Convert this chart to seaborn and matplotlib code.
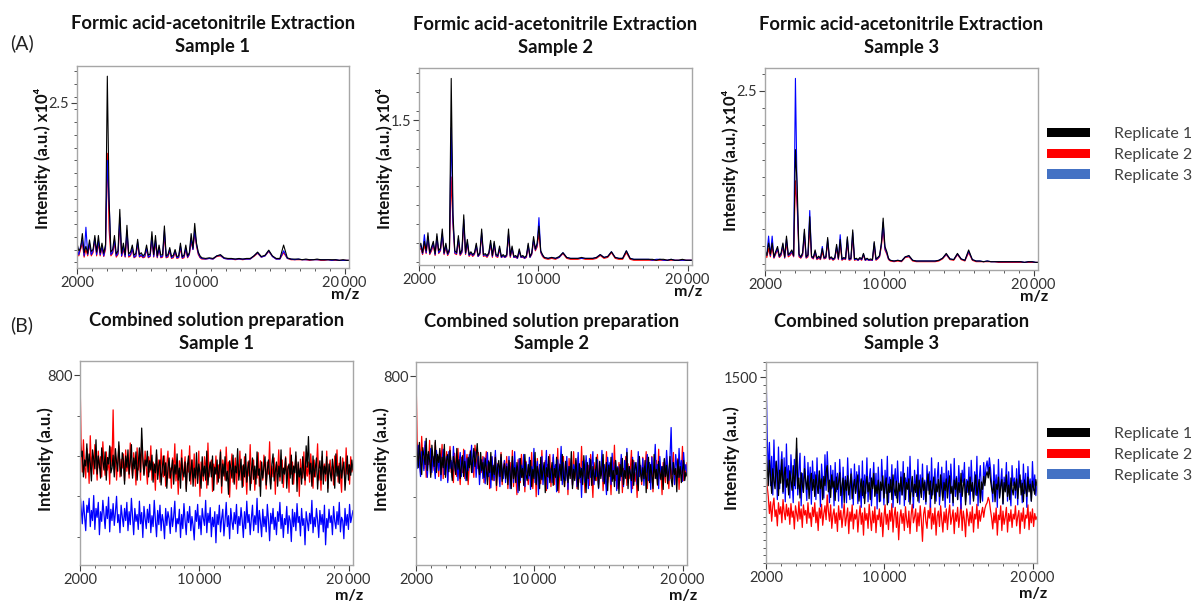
import numpy as np
import pandas as pd
import matplotlib.pyplot as plt
import seaborn as sns
from matplotlib.ticker import MultipleLocator
from matplotlib.patches import Patch

sns.set_style('white')
plt.rcParams['font.family'] = ['Lato', 'DejaVu Sans']

reps = ['Replicate 1', 'Replicate 2', 'Replicate 3']
line_colors = {'Replicate 1': 'black', 'Replicate 2': '#ff0000', 'Replicate 3': '#0000ff'}
legend_colors = ['black', '#ff0000', '#4472c4']
draw_order = ['Replicate 2', 'Replicate 3', 'Replicate 1']

# m/z sampling of the spectra
mz_top = np.concatenate([np.arange(2000, 10400, 120), np.arange(10400, 20401, 250)])
mz_bottom = np.linspace(2000, 20300, 240)

# (A) Formic acid-acetonitrile extraction, intensity x10^4
a1_rep1 = [0.30, 0.18, 0.22, 0.45, 0.15, 0.25, 0.14, 0.35, 0.17, 0.2,
           0.42, 0.16, 0.42, 0.15, 0.3, 0.14, 0.28, 2.92, 0.97, 0.16,
           0.2, 0.42, 0.13, 0.18, 0.83, 0.14, 0.3, 0.12, 0.58, 0.13,
           0.16, 0.27, 0.11, 0.14, 0.36, 0.12, 0.15, 0.1, 0.13, 0.27,
           0.11, 0.13, 0.48, 0.12, 0.42, 0.1, 0.27, 0.11, 0.12, 0.57,
           0.1, 0.12, 0.23, 0.09, 0.11, 0.2, 0.09, 0.1, 0.3, 0.09,
           0.11, 0.27, 0.1, 0.15, 0.45, 0.22, 0.61, 0.3, 0.16, 0.1,
           0.07, 0.06, 0.07, 0.06, 0.1, 0.12, 0.07, 0.06, 0.06, 0.05,
           0.06, 0.05, 0.06, 0.06, 0.1, 0.16, 0.09, 0.11, 0.19, 0.1,
           0.06, 0.06, 0.27, 0.07, 0.05, 0.05, 0.05, 0.04, 0.05, 0.04,
           0.04, 0.05, 0.04, 0.04, 0.04, 0.04, 0.04, 0.03, 0.04, 0.03, 0.03]
a1_rep2 = [0.25, 0.1, 0.2, 0.3, 0.08, 0.2, 0.1, 0.28, 0.1, 0.15,
           0.35, 0.1, 0.3, 0.1, 0.22, 0.09, 0.2, 1.71, 0.5, 0.1,
           0.14, 0.3, 0.08, 0.12, 0.6, 0.09, 0.2, 0.08, 0.42, 0.08,
           0.1, 0.2, 0.07, 0.09, 0.28, 0.08, 0.1, 0.07, 0.08, 0.2,
           0.07, 0.09, 0.36, 0.08, 0.3, 0.07, 0.2, 0.07, 0.08, 0.42,
           0.07, 0.08, 0.17, 0.06, 0.07, 0.15, 0.06, 0.07, 0.22, 0.06,
           0.07, 0.2, 0.07, 0.12, 0.32, 0.2, 0.45, 0.25, 0.12, 0.07,
           0.05, 0.05, 0.06, 0.05, 0.09, 0.1, 0.06, 0.05, 0.05, 0.04,
           0.05, 0.04, 0.05, 0.05, 0.09, 0.14, 0.08, 0.1, 0.17, 0.09,
           0.05, 0.05, 0.15, 0.06, 0.04, 0.04, 0.04, 0.04, 0.04, 0.03,
           0.04, 0.04, 0.03, 0.03, 0.04, 0.03, 0.03, 0.03, 0.03, 0.03, 0.03]
a1_rep3 = [0.2, 0.12, 0.25, 0.35, 0.1, 0.55, 0.12, 0.3, 0.12, 0.18,
           0.38, 0.12, 0.35, 0.12, 0.25, 0.1, 0.25, 1.6, 0.96, 0.12,
           0.16, 0.35, 0.1, 0.14, 0.7, 0.1, 0.25, 0.09, 0.5, 0.1,
           0.12, 0.22, 0.08, 0.1, 0.32, 0.09, 0.12, 0.08, 0.1, 0.22,
           0.08, 0.1, 0.4, 0.09, 0.35, 0.08, 0.22, 0.08, 0.1, 0.5,
           0.08, 0.1, 0.2, 0.07, 0.09, 0.18, 0.07, 0.08, 0.26, 0.07,
           0.09, 0.22, 0.08, 0.13, 0.38, 0.2, 0.5, 0.28, 0.14, 0.08,
           0.06, 0.05, 0.06, 0.05, 0.1, 0.11, 0.06, 0.05, 0.05, 0.05,
           0.05, 0.05, 0.05, 0.05, 0.1, 0.15, 0.08, 0.1, 0.18, 0.09,
           0.05, 0.05, 0.18, 0.06, 0.05, 0.04, 0.05, 0.04, 0.04, 0.04,
           0.04, 0.04, 0.04, 0.04, 0.04, 0.03, 0.04, 0.03, 0.03, 0.03, 0.03]

a2_rep1 = [0.15, 0.2, 0.1, 0.22, 0.12, 0.31, 0.1, 0.16, 0.22, 0.09,
           0.3, 0.12, 0.15, 0.35, 0.1, 0.2, 0.09, 0.14, 1.94, 0.5,
           0.12, 0.1, 0.28, 0.09, 0.13, 0.5, 0.1, 0.24, 0.08, 0.11,
           0.08, 0.1, 0.2, 0.07, 0.1, 0.35, 0.08, 0.09, 0.07, 0.1,
           0.23, 0.07, 0.22, 0.08, 0.07, 0.17, 0.06, 0.08, 0.06, 0.08,
           0.35, 0.07, 0.17, 0.06, 0.07, 0.05, 0.14, 0.06, 0.07, 0.05,
           0.07, 0.2, 0.06, 0.1, 0.27, 0.14, 0.2, 0.38, 0.12, 0.08,
           0.05, 0.04, 0.05, 0.04, 0.06, 0.1, 0.05, 0.04, 0.04, 0.04,
           0.05, 0.04, 0.04, 0.04, 0.05, 0.08, 0.05, 0.06, 0.11, 0.05,
           0.04, 0.04, 0.12, 0.04, 0.03, 0.03, 0.03, 0.03, 0.03, 0.03,
           0.02, 0.03, 0.03, 0.02, 0.03, 0.02, 0.02, 0.03, 0.02, 0.02, 0.02]
a2_rep2 = [0.12, 0.15, 0.08, 0.18, 0.09, 0.24, 0.08, 0.12, 0.18, 0.07,
           0.24, 0.09, 0.12, 0.28, 0.08, 0.15, 0.07, 0.11, 0.9, 0.38,
           0.09, 0.08, 0.22, 0.07, 0.1, 0.4, 0.08, 0.19, 0.06, 0.09,
           0.06, 0.08, 0.16, 0.06, 0.08, 0.28, 0.06, 0.07, 0.05, 0.08,
           0.18, 0.05, 0.17, 0.06, 0.05, 0.13, 0.05, 0.06, 0.05, 0.06,
           0.28, 0.05, 0.13, 0.05, 0.05, 0.04, 0.11, 0.05, 0.05, 0.04,
           0.05, 0.16, 0.05, 0.08, 0.22, 0.12, 0.16, 0.3, 0.1, 0.06,
           0.04, 0.03, 0.04, 0.03, 0.05, 0.09, 0.04, 0.03, 0.03, 0.03,
           0.04, 0.03, 0.03, 0.03, 0.04, 0.07, 0.04, 0.05, 0.1, 0.04,
           0.03, 0.03, 0.1, 0.03, 0.02, 0.02, 0.02, 0.02, 0.02, 0.02,
           0.02, 0.02, 0.02, 0.02, 0.02, 0.02, 0.02, 0.02, 0.02, 0.02, 0.02]
a2_rep3 = [0.13, 0.18, 0.09, 0.29, 0.1, 0.27, 0.09, 0.14, 0.2, 0.08,
           0.27, 0.1, 0.13, 0.3, 0.09, 0.18, 0.08, 0.12, 1.42, 0.42,
           0.1, 0.09, 0.25, 0.08, 0.11, 0.45, 0.09, 0.21, 0.07, 0.1,
           0.07, 0.09, 0.18, 0.06, 0.09, 0.31, 0.07, 0.08, 0.06, 0.09,
           0.2, 0.06, 0.2, 0.07, 0.06, 0.15, 0.05, 0.07, 0.05, 0.07,
           0.3, 0.06, 0.15, 0.05, 0.06, 0.04, 0.12, 0.05, 0.06, 0.04,
           0.06, 0.18, 0.05, 0.09, 0.24, 0.13, 0.18, 0.47, 0.11, 0.07,
           0.05, 0.04, 0.05, 0.04, 0.05, 0.1, 0.05, 0.04, 0.04, 0.04,
           0.04, 0.04, 0.04, 0.04, 0.05, 0.08, 0.05, 0.06, 0.11, 0.05,
           0.04, 0.04, 0.12, 0.04, 0.03, 0.03, 0.03, 0.03, 0.03, 0.02,
           0.03, 0.03, 0.02, 0.02, 0.03, 0.02, 0.02, 0.02, 0.02, 0.02, 0.02]

a3_rep1 = [0.2, 0.12, 0.3, 0.14, 0.3, 0.1, 0.18, 0.25, 0.11, 0.16,
           0.3, 0.1, 0.4, 0.13, 0.16, 0.2, 0.12, 1.65, 1.11, 0.14,
           0.1, 0.16, 0.5, 0.1, 0.13, 0.68, 0.11, 0.09, 0.2, 0.08,
           0.11, 0.08, 0.22, 0.09, 0.1, 0.38, 0.08, 0.1, 0.07, 0.09,
           0.28, 0.08, 0.35, 0.07, 0.09, 0.08, 0.39, 0.07, 0.08, 0.49,
           0.07, 0.08, 0.06, 0.09, 0.07, 0.15, 0.06, 0.08, 0.06, 0.07,
           0.06, 0.32, 0.07, 0.09, 0.12, 0.3, 0.66, 0.25, 0.18, 0.08,
           0.05, 0.04, 0.05, 0.04, 0.1, 0.12, 0.05, 0.04, 0.04, 0.04,
           0.04, 0.04, 0.04, 0.05, 0.08, 0.15, 0.07, 0.06, 0.15, 0.07,
           0.05, 0.2, 0.06, 0.04, 0.04, 0.03, 0.04, 0.03, 0.03, 0.03,
           0.03, 0.03, 0.03, 0.03, 0.03, 0.03, 0.02, 0.03, 0.03, 0.02, 0.02]
a3_rep2 = [0.15, 0.09, 0.22, 0.1, 0.24, 0.08, 0.14, 0.2, 0.09, 0.12,
           0.24, 0.08, 0.3, 0.1, 0.12, 0.16, 0.1, 1.2, 0.8, 0.1,
           0.08, 0.12, 0.4, 0.08, 0.1, 0.52, 0.09, 0.07, 0.15, 0.06,
           0.08, 0.06, 0.17, 0.07, 0.08, 0.3, 0.06, 0.08, 0.05, 0.07,
           0.22, 0.06, 0.28, 0.05, 0.07, 0.06, 0.3, 0.05, 0.06, 0.38,
           0.05, 0.06, 0.05, 0.07, 0.05, 0.12, 0.05, 0.06, 0.05, 0.05,
           0.05, 0.25, 0.05, 0.07, 0.1, 0.25, 0.5, 0.2, 0.14, 0.06,
           0.04, 0.03, 0.04, 0.03, 0.09, 0.1, 0.04, 0.03, 0.03, 0.03,
           0.03, 0.03, 0.03, 0.04, 0.07, 0.13, 0.06, 0.05, 0.13, 0.06,
           0.04, 0.16, 0.05, 0.03, 0.03, 0.03, 0.03, 0.03, 0.03, 0.02,
           0.02, 0.02, 0.02, 0.02, 0.02, 0.02, 0.02, 0.02, 0.02, 0.02, 0.02]
a3_rep3 = [0.18, 0.12, 0.4, 0.12, 0.4, 0.09, 0.16, 0.22, 0.1, 0.14,
           0.28, 0.09, 0.36, 0.12, 0.14, 0.18, 0.11, 2.68, 0.9, 0.12,
           0.09, 0.14, 0.45, 0.09, 0.12, 0.77, 0.1, 0.08, 0.18, 0.07,
           0.1, 0.07, 0.25, 0.08, 0.09, 0.35, 0.07, 0.09, 0.06, 0.08,
           0.25, 0.07, 0.42, 0.06, 0.08, 0.07, 0.36, 0.06, 0.07, 0.45,
           0.06, 0.07, 0.05, 0.08, 0.06, 0.14, 0.05, 0.07, 0.05, 0.06,
           0.05, 0.3, 0.06, 0.08, 0.11, 0.28, 0.6, 0.22, 0.16, 0.07,
           0.05, 0.04, 0.05, 0.04, 0.1, 0.11, 0.05, 0.04, 0.04, 0.04,
           0.04, 0.04, 0.04, 0.05, 0.08, 0.14, 0.07, 0.06, 0.14, 0.07,
           0.05, 0.18, 0.06, 0.04, 0.04, 0.03, 0.04, 0.03, 0.03, 0.03,
           0.03, 0.03, 0.03, 0.03, 0.03, 0.03, 0.02, 0.03, 0.03, 0.02, 0.02]

# (B) Combined solution preparation, intensity in a.u.
b1_rep1 = [650, 598, 612, 548, 590, 575, 630, 560, 605, 582, 538, 615, 592, 568, 640, 555, 600, 578, 545, 620,
           588, 565, 610, 540, 596, 580, 625, 558, 570, 602, 548, 618, 585, 562, 635, 575, 550, 608, 590, 530,
           600, 572, 615, 555, 585, 628, 545, 595, 568, 610, 540, 582, 620, 560, 669, 598, 552, 590, 575, 612,
           548, 588, 565, 602, 535, 580, 558, 615, 542, 575, 590, 528, 568, 600, 552, 583, 520, 572, 595, 545,
           565, 590, 530, 578, 555, 605, 540, 570, 520, 595, 560, 548, 585, 512, 575, 600, 538, 562, 590, 525,
           570, 545, 608, 532, 580, 558, 520, 598, 550, 575, 540, 612, 528, 565, 585, 548, 600, 515, 572, 555,
           590, 535, 568, 610, 525, 580, 550, 598, 538, 562, 505, 588, 570, 545, 602, 530, 575, 558, 618, 540,
           565, 592, 522, 578, 548, 605, 535, 570, 588, 515, 560, 595, 542, 575, 530, 610, 552, 568, 500, 585,
           545, 572, 598, 528, 565, 590, 550, 518, 580, 605, 538, 562, 585, 525, 575, 548, 615, 532, 570, 555,
           595, 520, 568, 580, 545, 602, 530, 575, 558, 610, 512, 585, 548, 570, 530, 598, 560, 540, 625, 572,
           648, 555, 582, 525, 600, 548, 570, 595, 518, 565, 588, 540, 612, 530, 575, 555, 598, 510, 580, 560,
           538, 592, 565, 520, 605, 550, 575, 532, 598, 545, 570, 585, 515, 560, 600, 540, 578, 552, 590, 565]
b1_rep2 = [805, 625, 560, 640, 575, 545, 618, 590, 532, 650, 568, 600, 555, 628, 585, 540, 612, 570, 598, 548,
           635, 580, 552, 610, 565, 595, 530, 622, 575, 714, 560, 600, 540, 585, 625, 548, 592, 570, 605, 538,
           615, 562, 590, 545, 632, 575, 550, 608, 580, 528, 620, 565, 598, 540, 640, 585, 555, 612, 570, 530,
           598, 560, 625, 540, 585, 570, 515, 605, 552, 590, 535, 618, 565, 548, 600, 525, 580, 612, 545, 570,
           520, 595, 560, 630, 538, 575, 505, 588, 552, 615, 540, 570, 598, 518, 582, 560, 625, 530, 590, 548,
           605, 525, 572, 550, 612, 500, 585, 560, 538, 598, 575, 520, 632, 548, 568, 590, 512, 580, 555, 600,
           530, 578, 545, 615, 508, 590, 565, 540, 622, 555, 585, 498, 570, 605, 535, 560, 595, 518, 580, 550,
           612, 540, 575, 525, 598, 560, 505, 585, 550, 628, 532, 570, 590, 515, 565, 545, 608, 525, 588, 560,
           540, 602, 570, 518, 585, 555, 635, 530, 575, 548, 595, 505, 580, 560, 615, 538, 570, 590, 522, 565,
           598, 545, 575, 510, 620, 555, 585, 530, 568, 600, 540, 580, 500, 592, 562, 545, 610, 528, 575, 550,
           585, 535, 605, 560, 520, 590, 548, 572, 630, 540, 565, 515, 598, 555, 580, 538, 612, 520, 570, 590,
           545, 575, 528, 600, 560, 615, 535, 582, 550, 510, 595, 565, 540, 620, 555, 578, 530, 598, 560, 572]
b1_rep3 = [510, 470, 432, 488, 452, 415, 478, 460, 495, 425, 465, 440, 502, 418, 470, 448, 485, 405, 462, 438,
           490, 455, 420, 475, 445, 498, 412, 468, 440, 482, 428, 460, 500, 435, 455, 410, 478, 450, 425, 470,
           440, 485, 415, 462, 430, 495, 448, 405, 470, 438, 455, 418, 488, 432, 460, 398, 475, 445, 420, 468,
           435, 480, 410, 452, 425, 490, 442, 400, 465, 430, 478, 415, 455, 438, 395, 470, 428, 462, 445, 408,
           472, 425, 450, 488, 412, 445, 432, 468, 398, 455, 420, 482, 440, 405, 462, 435, 475, 415, 450, 428,
           392, 465, 438, 480, 420, 452, 405, 470, 445, 428, 490, 410, 458, 435, 472, 400, 448, 425, 462, 385,
           455, 430, 478, 412, 445, 468, 402, 440, 485, 425, 452, 395, 470, 438, 418, 460, 432, 480, 408, 450,
           428, 472, 440, 398, 462, 420, 488, 435, 455, 405, 445, 478, 415, 452, 430, 495, 410, 465, 438, 400,
           468, 425, 450, 412, 480, 442, 390, 458, 432, 470, 418, 448, 405, 462, 438, 485, 420, 455, 398, 445,
           430, 475, 408, 452, 440, 388, 468, 425, 460, 415, 482, 435, 450, 402, 470, 428, 445, 380, 462, 438,
           415, 458, 432, 490, 410, 448, 425, 470, 440, 398, 465, 430, 455, 412, 478, 380, 445, 422, 468, 435,
           452, 405, 475, 438, 420, 462, 430, 485, 412, 448, 440, 395, 470, 428, 455, 418, 480, 435, 450, 465]

b2_rep1 = [650, 610, 572, 635, 590, 555, 622, 600, 580, 645, 565, 612, 590, 548, 628, 598, 575, 640, 560, 605,
           585, 620, 555, 598, 572, 630, 548, 590, 605, 562, 615, 578, 540, 600, 585, 555, 620, 568, 592, 545,
           575, 602, 550, 588, 565, 540, 598, 572, 612, 560, 590, 620, 575, 600, 632, 580, 555, 610, 565, 585,
           548, 595, 570, 530, 588, 560, 610, 542, 578, 555, 598, 528, 572, 590, 550, 605, 538, 568, 582, 545,
           575, 530, 590, 558, 520, 600, 545, 572, 535, 585, 562, 515, 595, 548, 570, 528, 605, 555, 540, 580,
           552, 590, 525, 568, 545, 610, 530, 575, 558, 520, 598, 542, 565, 585, 510, 572, 550, 600, 535, 562,
           585, 528, 570, 548, 598, 515, 562, 580, 540, 605, 552, 525, 588, 560, 535, 575, 545, 612, 520, 568,
           540, 595, 555, 518, 582, 548, 570, 530, 602, 558, 510, 585, 545, 565, 592, 528, 575, 550, 540, 598,
           560, 522, 588, 545, 570, 605, 532, 560, 585, 515, 578, 550, 598, 538, 565, 525, 590, 555, 572, 508,
           580, 550, 595, 530, 565, 545, 610, 520, 575, 558, 540, 592, 528, 570, 585, 548, 515, 600, 560, 538,
           572, 545, 590, 510, 565, 598, 535, 580, 552, 520, 605, 545, 568, 530, 588, 560, 542, 575, 518, 595,
           550, 578, 532, 565, 600, 545, 525, 585, 555, 570, 512, 592, 548, 575, 535, 565, 590, 540, 560, 552]
b2_rep2 = [810, 640, 585, 620, 560, 650, 595, 570, 628, 548, 605, 580, 640, 555, 612, 590, 565, 635, 575, 598,
           550, 615, 585, 630, 545, 600, 570, 612, 540, 590, 625, 560, 585, 535, 608, 575, 550, 620, 565, 530,
           598, 560, 618, 545, 582, 605, 530, 575, 615, 565, 590, 548, 628, 595, 570, 610, 548, 585, 560, 600,
           535, 578, 612, 550, 590, 520, 565, 598, 540, 575, 605, 515, 582, 560, 545, 610, 530, 570, 590, 552,
           600, 520, 565, 585, 540, 615, 525, 578, 550, 505, 592, 568, 535, 605, 548, 575, 512, 588, 560, 530,
           578, 545, 610, 520, 560, 585, 500, 595, 552, 570, 532, 615, 545, 565, 590, 515, 580, 548, 605, 525,
           565, 598, 530, 575, 548, 620, 510, 582, 560, 540, 600, 525, 570, 588, 505, 595, 552, 575, 530, 612,
           545, 580, 520, 598, 560, 535, 625, 550, 572, 510, 590, 545, 578, 528, 605, 555, 498, 585, 565, 540,
           605, 530, 575, 552, 590, 515, 568, 545, 612, 535, 580, 560, 505, 598, 550, 628, 540, 572, 520, 585,
           548, 595, 510, 570, 555, 600, 528, 582, 545, 568, 615, 520, 590, 538, 560, 498, 592, 555, 575, 530,
           598, 545, 565, 612, 520, 580, 552, 535, 600, 512, 575, 560, 590, 528, 618, 545, 570, 505, 585, 558,
           535, 600, 555, 520, 590, 545, 575, 610, 530, 565, 548, 595, 518, 580, 560, 625, 540, 572, 550, 585]
b2_rep3 = [615, 570, 628, 585, 550, 612, 595, 565, 638, 580, 548, 605, 590, 620, 560, 600, 578, 545, 615, 588,
           565, 605, 540, 590, 618, 555, 580, 600, 535, 612, 570, 590, 548, 625, 575, 560, 598, 540, 585, 610,
           550, 588, 575, 615, 540, 595, 565, 605, 580, 628, 560, 590, 612, 548, 585, 600, 530, 575, 592, 545,
           598, 532, 575, 610, 550, 585, 522, 600, 565, 540, 615, 548, 580, 560, 525, 598, 570, 545, 590, 535,
           582, 545, 600, 520, 570, 590, 535, 612, 550, 565, 510, 595, 540, 578, 555, 605, 525, 585, 560, 545,
           598, 518, 575, 550, 620, 535, 565, 588, 505, 580, 545, 600, 530, 572, 558, 615, 520, 590, 548, 570,
           535, 605, 560, 580, 512, 592, 548, 570, 625, 530, 585, 555, 540, 600, 518, 575, 562, 595, 528, 580,
           560, 590, 525, 610, 545, 572, 498, 588, 555, 535, 602, 565, 520, 595, 548, 578, 612, 530, 568, 550,
           592, 520, 570, 555, 615, 538, 580, 548, 505, 598, 562, 585, 530, 608, 545, 570, 590, 515, 575, 555,
           540, 605, 568, 525, 590, 552, 620, 535, 575, 560, 510, 598, 545, 585, 565, 530, 612, 550, 578, 540,
           595, 528, 575, 560, 605, 540, 585, 518, 598, 555, 570, 630, 545, 580, 520, 600, 560, 575, 535, 592,
           550, 615, 565, 540, 598, 672, 555, 585, 530, 605, 575, 548, 620, 560, 590, 538, 610, 565, 580, 552]

b3_rep1 = [1260, 1215, 1150, 1232, 1180, 1125, 1205, 1165, 1140, 1228, 1190, 1118, 1200, 1158, 1235, 1130, 1182, 1210, 1145, 1172,
           1120, 1198, 1165, 1135, 1215, 1150, 1185, 1304, 1140, 1175, 1110, 1192, 1155, 1128, 1205, 1168, 1138, 1182, 1108, 1160,
           1190, 1135, 1170, 1115, 1185, 1152, 1125, 1198, 1140, 1172, 1105, 1180, 1150, 1195, 1215, 1130, 1168, 1112, 1185, 1145,
           1165, 1102, 1178, 1138, 1160, 1192, 1118, 1150, 1175, 1095, 1168, 1135, 1182, 1120, 1155, 1188, 1108, 1145, 1170, 1125,
           1158, 1185, 1100, 1142, 1172, 1118, 1165, 1092, 1150, 1180, 1130, 1160, 1105, 1175, 1140, 1190, 1115, 1152, 1125, 1168,
           1098, 1162, 1135, 1182, 1110, 1148, 1175, 1088, 1155, 1128, 1170, 1105, 1185, 1140, 1118, 1165, 1095, 1158, 1132, 1178,
           1120, 1150, 1190, 1105, 1160, 1138, 1172, 1090, 1145, 1180, 1115, 1155, 1128, 1185, 1100, 1168, 1142, 1112, 1175, 1135,
           1162, 1098, 1150, 1188, 1122, 1165, 1108, 1145, 1178, 1092, 1155, 1130, 1170, 1115, 1185, 1140, 1102, 1160, 1135, 1172,
           1110, 1155, 1182, 1125, 1148, 1095, 1168, 1138, 1175, 1105, 1160, 1128, 1190, 1115, 1150, 1172, 1088, 1145, 1165, 1120,
           1178, 1132, 1160, 1100, 1155, 1185, 1118, 1145, 1170, 1095, 1162, 1138, 1180, 1150, 1182, 1195, 1175, 1210, 1168, 1140,
           1125, 1165, 1098, 1155, 1138, 1178, 1110, 1148, 1170, 1092, 1160, 1130, 1185, 1115, 1152, 1105, 1175, 1140, 1120, 1162,
           1135, 1172, 1108, 1150, 1185, 1120, 1158, 1098, 1168, 1140, 1115, 1178, 1130, 1155, 1100, 1165, 1142, 1122, 1170, 1150]
b3_rep2 = [1180, 1150, 1115, 1060, 1098, 1035, 1085, 1110, 1050, 1072, 1020, 1095, 1058, 1082, 1030, 1105, 1065, 1040, 1090, 1052,
           1078, 1025, 1092, 1048, 1068, 1010, 1085, 1060, 1035, 1098, 1042, 1075, 1015, 1088, 1055, 1070, 1028, 1095, 1045, 1062,
           1018, 1080, 1050, 1095, 1030, 1065, 1005, 1078, 1045, 1090, 1022, 1060, 1085, 1040, 1120, 1068, 1035, 1088, 1012, 1055,
           1075, 1028, 1062, 1002, 1085, 1040, 1070, 1015, 1055, 1092, 1020, 1048, 1078, 995, 1065, 1035, 1088, 1010, 1058, 1042,
           1072, 1000, 1050, 1085, 1025, 1062, 990, 1078, 1038, 1060, 1012, 1090, 1045, 1005, 1068, 1030, 1082, 998, 1055, 1040,
           1075, 1018, 1062, 985, 1048, 1088, 1025, 1058, 1008, 1070, 1035, 1092, 1000, 1052, 1080, 1015, 1065, 975, 1045, 1072,
           1028, 1060, 1005, 1082, 1040, 1015, 1068, 995, 1055, 1090, 1030, 1048, 1075, 1002, 1062, 1020, 1085, 1038, 970, 1058,
           1080, 1035, 1012, 1070, 1045, 1095, 1010, 1060, 1025, 1078, 990, 1052, 1068, 1018, 1085, 1040, 1000, 1065, 1030, 1075,
           1008, 1058, 1088, 1025, 1048, 1072, 995, 1062, 1035, 1080, 1015, 1055, 1092, 1005, 1068, 1040, 985, 1075, 1050, 1020,
           1065, 1030, 1082, 1000, 1058, 1042, 1090, 1012, 1070, 1035, 1060, 1080, 1048, 1075, 1088, 1095, 1112, 1100, 1070, 1045,
           1010, 1062, 1030, 1078, 990, 1055, 1040, 1085, 1005, 1068, 1025, 1048, 1080, 1000, 1060, 1035, 1072, 1015, 1058, 1042,
           1085, 1020, 1050, 1070, 995, 1062, 1035, 1078, 1012, 1055, 1045, 1088, 1008, 1065, 1030, 1075, 1018, 1060, 1040, 1050]
b3_rep3 = [1535, 1320, 1180, 1290, 1150, 1245, 1120, 1298, 1165, 1230, 1105, 1275, 1140, 1210, 1260, 1125, 1240, 1098, 1285, 1155,
           1215, 1110, 1250, 1175, 1095, 1235, 1140, 1270, 1120, 1200, 1255, 1085, 1190, 1130, 1245, 1160, 1102, 1225, 1145, 1210,
           1090, 1230, 1150, 1195, 1105, 1240, 1125, 1185, 1082, 1220, 1160, 1110, 1250, 1135, 1260, 1180, 1095, 1215, 1140, 1200,
           1085, 1225, 1130, 1190, 1100, 1235, 1155, 1078, 1210, 1120, 1180, 1095, 1240, 1140, 1105, 1205, 1165, 1088, 1220, 1130,
           1195, 1092, 1215, 1145, 1080, 1230, 1110, 1185, 1125, 1240, 1098, 1170, 1205, 1085, 1150, 1225, 1118, 1190, 1075, 1210,
           1140, 1100, 1235, 1160, 1088, 1200, 1125, 1245, 1095, 1178, 1130, 1218, 1080, 1165, 1205, 1110, 1230, 1145, 1090, 1195,
           1120, 1228, 1085, 1175, 1140, 1210, 1098, 1245, 1130, 1160, 1078, 1200, 1150, 1115, 1235, 1095, 1185, 1125, 1220, 1105,
           1168, 1090, 1215, 1135, 1195, 1080, 1240, 1120, 1158, 1205, 1100, 1175, 1225, 1088, 1145, 1210, 1112, 1190, 1080, 1230,
           1130, 1198, 1095, 1220, 1150, 1085, 1238, 1115, 1180, 1105, 1215, 1140, 1075, 1200, 1160, 1225, 1098, 1170, 1128, 1210,
           1090, 1232, 1145, 1108, 1195, 1120, 1245, 1085, 1170, 1215, 1135, 1100, 1225, 1160, 1210, 1230, 1190, 1240, 1205, 1150,
           1098, 1218, 1130, 1185, 1080, 1235, 1115, 1160, 1205, 1090, 1178, 1140, 1225, 1100, 1195, 1130, 1085, 1215, 1150, 1175,
           1110, 1205, 1088, 1230, 1145, 1168, 1095, 1220, 1125, 1190, 1080, 1212, 1140, 1172, 1100, 1228, 1135, 1185, 1118, 1160]

top_title = 'Formic acid-acetonitrile Extraction\nSample {}'
bottom_title = 'Combined solution preparation\nSample {}'
top_ylabel = 'Intensity (a.u.) x10\u2074'
bottom_ylabel = 'Intensity (a.u.)'

W, H = 1196, 603
fig = plt.figure(figsize=(W / 100, H / 100), dpi=100)

# panel boxes in pixels: left, top, right, bottom
panels = [
    dict(box=(77, 66, 349, 268), mz=mz_top, traces=[a1_rep1, a1_rep2, a1_rep3],
         title=top_title.format(1), ylabel=top_ylabel, ylim=(-0.09, 3.08),
         ymajor=2.5, ylab='2.5', yminor=0.2, pad=10, top=True),
    dict(box=(419, 68, 692, 265), mz=mz_top, traces=[a2_rep1, a2_rep2, a2_rep3],
         title=top_title.format(2), ylabel=top_ylabel, ylim=(-0.03, 2.05),
         ymajor=1.5, ylab='1.5', yminor=0.2, pad=11, top=True),
    dict(box=(765, 68, 1038, 270), mz=mz_top, traces=[a3_rep1, a3_rep2, a3_rep3],
         title=top_title.format(3), ylabel=top_ylabel, ylim=(-0.09, 2.83),
         ymajor=2.5, ylab='2.5', yminor=0.25, pad=11, top=True),
    dict(box=(80, 361, 353, 565), mz=mz_bottom, traces=[b1_rep1, b1_rep2, b1_rep3],
         title=bottom_title.format(1), ylabel=bottom_ylabel, ylim=(330, 835),
         ymajor=800, ylab='800', yminor=100, pad=9, top=False),
    dict(box=(416, 362, 687, 565), mz=mz_bottom, traces=[b2_rep1, b2_rep2, b2_rep3],
         title=bottom_title.format(2), ylabel=bottom_ylabel, ylim=(330, 835),
         ymajor=800, ylab='800', yminor=100, pad=9, top=False),
    dict(box=(766, 362, 1037, 563), mz=mz_bottom, traces=[b3_rep1, b3_rep2, b3_rep3],
         title=bottom_title.format(3), ylabel=bottom_ylabel, ylim=(900, 1550),
         ymajor=1500, ylab='1500', yminor=25, pad=9, top=False),
]

for p in panels:
    l, t, r, b = p['box']
    ax = fig.add_axes([l / W, 1 - b / H, (r - l) / W, (b - t) / H])
    frames = []
    for rep, v in zip(reps, p['traces']):
        n = min(len(v), len(p['mz']))
        frames.append(pd.DataFrame({'mz': p['mz'][:n], 'intensity': v[:n], 'replicate': rep}))
    df = pd.concat(frames, ignore_index=True)
    sns.lineplot(data=df, x='mz', y='intensity', hue='replicate', hue_order=draw_order,
                 palette=line_colors, estimator=None, sort=False,
                 lw=0.8 if p['top'] else 0.9, legend=False, ax=ax)

    ax.set_xlim(2000, 20300)
    ax.set_ylim(*p['ylim'])
    ax.set_xticks([2000, 10000, 20000], ['2000', '10\u2009000', '20\u2009000'])
    ax.xaxis.set_minor_locator(MultipleLocator(1000))
    ax.set_yticks([p['ymajor']], [p['ylab']])
    ax.yaxis.set_minor_locator(MultipleLocator(p['yminor']))
    ax.tick_params(which='both', bottom=True, left=True, direction='out',
                   color='#404040', labelsize=10.5, labelcolor='#333333')
    ax.tick_params(which='major', length=4, width=0.8, pad=1.5)
    ax.tick_params(which='minor', length=2, width=0.6)
    for s in ax.spines.values():
        s.set_color('#a6a6a6')
        s.set_linewidth(1)

    ax.set_title(p['title'], fontweight='bold', fontsize=13.2, linespacing=1.42,
                 pad=p['pad'], color='#111111')
    ax.set_ylabel(p['ylabel'], fontweight='bold', fontsize=12, color='#111111')
    ax.yaxis.set_label_coords(-26 / (r - l), 0.54 if p['top'] else 0.52)
    ax.set_xlabel('m/z', fontweight='bold', fontsize=11.5, color='#111111')
    ax.xaxis.set_label_coords(0.984, -20 / (b - t) if p['top'] else -24 / (b - t))
    ax.xaxis.label.set_va('top')

fig.text(10 / W, 1 - 43 / H, '(A)', fontsize=14, va='center', ha='left', color='#222222')
fig.text(10 / W, 1 - 325 / H, '(B)', fontsize=14, va='center', ha='left', color='#222222')

handles = [Patch(facecolor=c, edgecolor='none', label=rep) for c, rep in zip(legend_colors, reps)]
for yc in (155, 455):
    fig.legend(handles=handles, loc='center left', bbox_to_anchor=(1047 / W, 1 - yc / H),
               frameon=False, fontsize=11.5, handlelength=2.7, handleheight=0.5,
               handletextpad=1.5, labelspacing=0.42, borderpad=0, borderaxespad=0,
               labelcolor='#404040')

fig.savefig('out.png', dpi=100)
